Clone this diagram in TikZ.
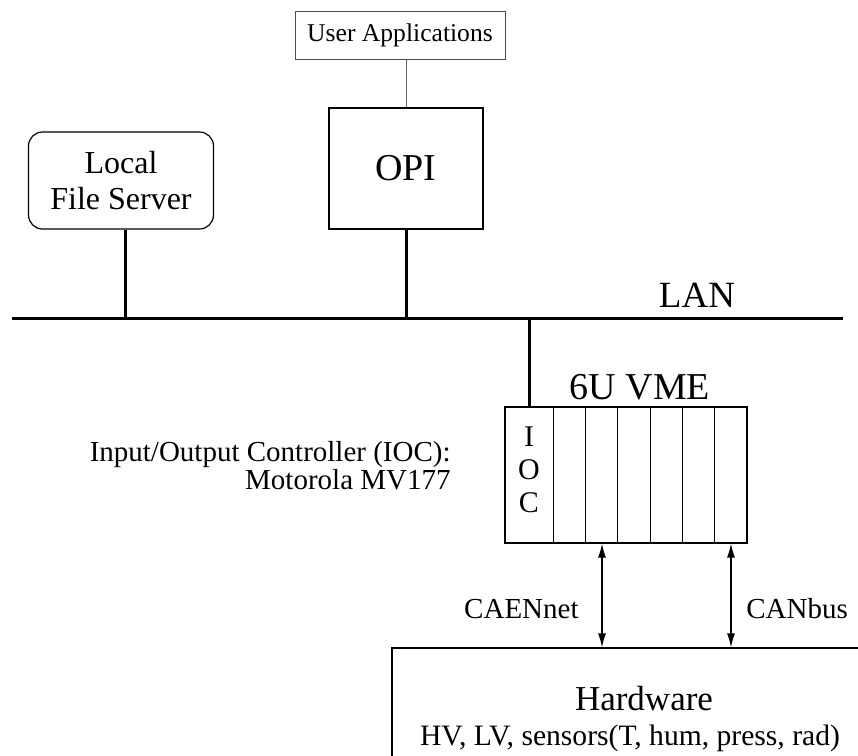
\documentclass[tikz,border=0pt]{standalone}
\usepackage{fontspec}
\setmainfont{Liberation Serif}
\usetikzlibrary{arrows.meta}

\begin{document}
\begin{tikzpicture}[x=0.5pt,y=-0.5pt]
		\tikzset{box/.style = {shape=rectangle,draw,line width=0.6pt,inner sep=0pt,align=center}}
		\tikzset{bus/.style = {-,line width=1.5pt}}
		\tikzset{link/.style = {{Latex[length=7pt,width=4pt]}-{Latex[length=7pt,width=4pt]},line width=0.65pt}}
		\tikzset{slot/.style = {-,line width=0.5pt}}
		\clip (0,0) rectangle (858,756);
		% boxes
		\node[box,draw=black!70,line width=0.5pt,minimum width=105pt,minimum height=24pt,font=\fontsize{12.8}{15}\selectfont] (usr) at (400,35) {User Applications};
		\node[box,minimum width=77pt,minimum height=60.5pt,font=\fontsize{19}{22}\selectfont] (opi) at (406,168.5) {OPI};
		\node[box,rounded corners=7pt,minimum width=92.5pt,minimum height=48.5pt,font=\fontsize{16}{18}\selectfont] (lfs) at (121,180.5) {Local\\File Server};
		\node[box,minimum width=121pt,minimum height=68pt] (vme) at (626,475) {};
		\node[box,minimum width=240pt,minimum height=70pt] (hw) at (632,718) {};

		% labels
		\node[anchor=base,font=\fontsize{18.5}{22}\selectfont] (lan) at (697,307) {LAN};
		\node[anchor=base,font=\fontsize{19}{22}\selectfont] (crate) at (640,399) {6U VME};
		\node[align=center,inner sep=0pt,font=\fontsize{15}{16.5}\selectfont] (ioc) at (529,470) {I\\O\\C};
		\node[anchor=east,align=right,inner sep=0pt,font=\fontsize{14.5}{13}\selectfont] (cpu) at (451,466) {Input/Output Controller (IOC):\\Motorola MV177};
		\node[anchor=east,inner sep=0pt,font=\fontsize{14.5}{17}\selectfont] (caen) at (579,609) {CAENnet};
		\node[anchor=west,inner sep=0pt,font=\fontsize{14.5}{17}\selectfont] (can) at (746,609) {CANbus};
		\node[anchor=base,font=\fontsize{17.5}{20}\selectfont] (hwname) at (644,710) {Hardware};
		\node[anchor=base,font=\fontsize{14.8}{17}\selectfont] (hwlist) at (630,745) {HV, LV, sensors(T, hum, press, rad)};

		\coordinate (lanl) at (12,318);
		\coordinate (lanr) at (843,318);
		\coordinate (caenx) at (602,600);
		\coordinate (canx) at (731,600);

		% slots
		\foreach \x in {553,585.33,617.67,650,682.33,714.67}
			\draw[slot] (\x,407) -- (\x,543);

		%edges
		\draw[bus] (lanl) -- (lanr);
		\draw[bus] ([xshift=2pt]lfs.south) -- ([xshift=2pt]lfs.south |- lanl);
		\draw[bus] (opi.south) -- (opi.south |- lanl);
		\draw[bus] (ioc |- lanl) -- (ioc |- vme.north);
		\draw[draw=black!60,line width=0.5pt] (opi.north) -- (opi.north |- usr.south);
		\draw[link] (vme.south -| caenx) -- (hw.north -| caenx);
		\draw[link] (vme.south -| canx) -- (hw.north -| canx);
\end{tikzpicture}
\end{document}
